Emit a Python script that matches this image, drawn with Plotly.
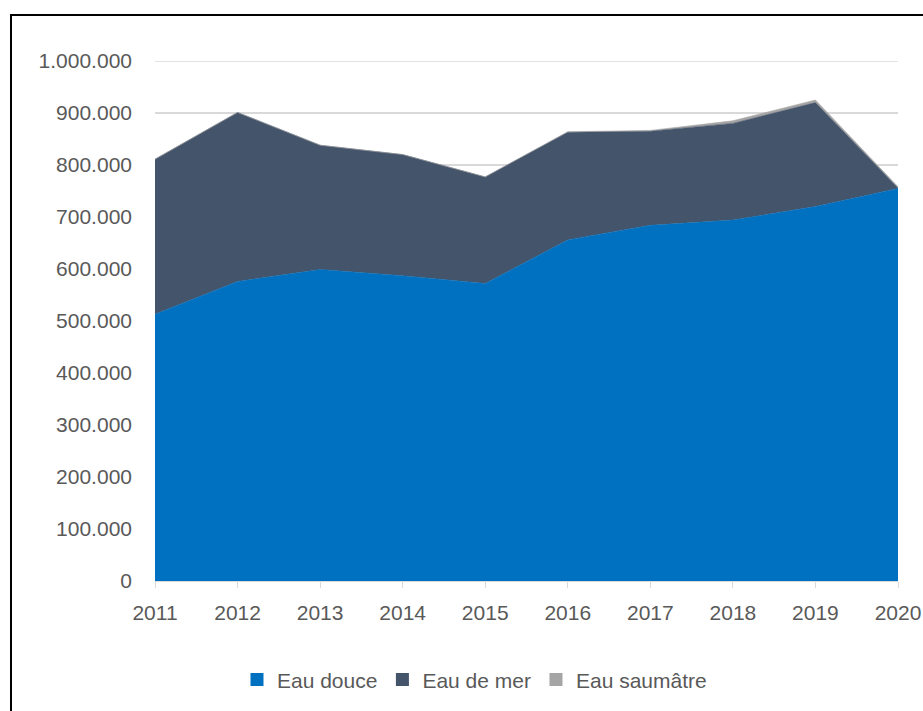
import plotly.graph_objects as go

years = [2011, 2012, 2013, 2014, 2015, 2016, 2017, 2018, 2019, 2020]
eau_douce = [513000, 576000, 599000, 587000, 572000, 656000, 684000, 694000, 720000, 755000]
eau_de_mer = [298000, 325000, 239000, 233000, 205000, 207000, 181000, 186000, 200000, 1000]
eau_saumatre = [0, 0, 0, 0, 0, 1000, 1500, 5000, 5000, 2000]

series = [
    ("Eau douce", eau_douce, "#0070C0"),
    ("Eau de mer", eau_de_mer, "#44546A"),
    ("Eau saumâtre", eau_saumatre, "#A5A5A5"),
]

FONT = "Liberation Sans"
TXT = "#595959"
GRID = "#D9D9D9"
Y_MAX = 1000000

fig = go.Figure()
for name, vals, col in series:
    fig.add_trace(go.Scatter(
        x=years, y=vals, name=name, stackgroup="one", mode="lines",
        line=dict(color=col, width=0.6), fillcolor=col, showlegend=False,
        hoverinfo="x+y+name",
    ))
for name, vals, col in series:
    fig.add_trace(go.Scatter(
        x=[None], y=[None], name=name, mode="markers",
        marker=dict(symbol="square", size=13, color=col),
        showlegend=True,
    ))

fig.update_layout(
    width=923, height=711,
    margin=dict(l=155, r=25, t=61, b=130, autoexpand=False),
    paper_bgcolor="white", plot_bgcolor="white",
    separators=",.",
    font=dict(family=FONT, size=21, color=TXT),
    showlegend=True,
    legend=dict(orientation="h", x=0.43, xanchor="center", y=-0.19, yanchor="middle",
                font=dict(family=FONT, size=21, color=TXT), itemwidth=30,
                traceorder="normal", bgcolor="rgba(0,0,0,0)"),
    xaxis=dict(range=[2011, 2020], tickvals=years, ticktext=[str(y) for y in years],
               automargin=False,
               showgrid=False, zeroline=False, showline=True, linecolor=GRID, linewidth=1,
               ticks="outside", ticklen=6, tickcolor=GRID, tickwidth=1,
               ticklabelstandoff=7, tickfont=dict(family=FONT, size=21, color=TXT)),
    yaxis=dict(range=[0, Y_MAX], dtick=100000, tick0=0, tickformat=",.0f",
               automargin=False,
               showgrid=True, gridcolor=GRID, gridwidth=1.5, zeroline=False,
               showline=False, ticks="", ticklabelstandoff=22,
               tickfont=dict(family=FONT, size=21, color=TXT)),
    shapes=[
        dict(type="line", xref="paper", yref="y", x0=0, x1=1, y0=Y_MAX, y1=Y_MAX,
             line=dict(color=GRID, width=1.5), layer="below"),
        dict(type="rect", xref="paper", yref="paper",
             x0=-0.1938, x1=1.06, y0=-0.35, y1=1.0885,
             line=dict(color="black", width=2), fillcolor="rgba(0,0,0,0)", layer="above"),
    ],
)

fig.write_html("out.html", config={"displayModeBar": False},
               post_script="document.body.style.margin='0px';document.body.style.overflow='hidden';")
